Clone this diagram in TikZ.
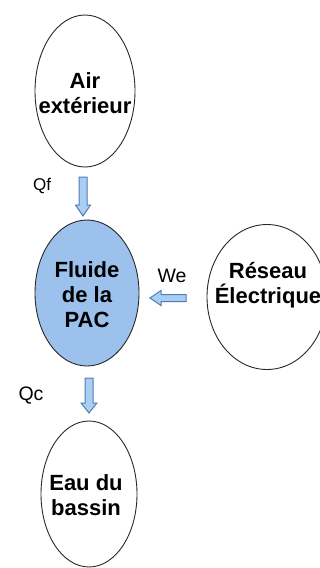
\documentclass[tikz,border=0pt]{standalone}
\usepackage{fontspec}
\setmainfont{Liberation Sans}
\usetikzlibrary{shapes.geometric}
\definecolor{pacfill}{RGB}{155,193,236}
\definecolor{arrfill}{RGB}{170,205,242}
\definecolor{arrline}{RGB}{80,125,185}
\definecolor{ellline}{RGB}{40,40,40}
\tikzset{
  bubble/.style={ellipse, draw=ellline, line width=0.9pt, inner sep=0pt},
  bubbletext/.style={inner sep=0pt, align=center,
    font=\fontsize{22}{25}\selectfont\bfseries},
  flowlabel/.style={inner sep=0pt, anchor=base},
  blockarrow/.style={draw=arrline, fill=arrfill, line width=1pt, line join=miter}
}
\begin{document}
\begin{tikzpicture}[x=1pt,y=-1pt]
\useasboundingbox (0,0) rectangle (320,568);
\clip (0,0) rectangle (320,568);
\fill[white] (0,0) rectangle (320,568);
% ellipses
\node[bubble, minimum width=100pt, minimum height=152pt] (air) at (85,91) {};
\node[bubble, fill=pacfill, minimum width=104pt, minimum height=146pt] (pac) at (87,293) {};
\node[bubble, minimum width=120pt, minimum height=145pt] (res) at (267,297) {};
\node[bubble, minimum width=96pt, minimum height=146pt] (eau) at (89,494) {};
% texts
\node[bubbletext] (airtxt) at ([shift={(0,2)}]air.center) {Air\\extérieur};
\node[bubbletext] (pactxt) at ([shift={(0,1.5)}]pac.center) {Fluide\\de la\\PAC};
\node[bubbletext] (restxt) at ([shift={(1,-12)}]res.center) {Réseau\\Électrique};
\node[bubbletext] (eautxt) at ([shift={(-3,1)}]eau.center) {Eau du\\bassin};
% arrows
\coordinate (a1) at (83,177);
\draw[blockarrow, shift={(a1)}] (-4,0) -- (-4,28) -- (-7.5,28) -- (0,39) -- (7.5,28) -- (4,28) -- (4,0) -- cycle;
\coordinate (a2) at (89,378);
\draw[blockarrow, shift={(a2)}] (-4,0) -- (-4,25) -- (-8,25) -- (0,35) -- (8,25) -- (4,25) -- (4,0) -- cycle;
\coordinate (a3) at (186,298);
\draw[blockarrow, shift={(a3)}] (0,-3.5) -- (-25,-3.5) -- (-25,-7.5) -- (-36,0) -- (-25,7.5) -- (-25,3.5) -- (0,3.5) -- cycle;
% labels
\node[flowlabel, font=\fontsize{17}{20}\selectfont] (qf) at (42,190) {Qf};
\node[flowlabel, font=\fontsize{19.5}{22}\selectfont] (qc) at (31,400) {Qc};
\node[flowlabel, font=\fontsize{19.5}{22}\selectfont] (we) at (172,282) {We};
\end{tikzpicture}
\end{document}
